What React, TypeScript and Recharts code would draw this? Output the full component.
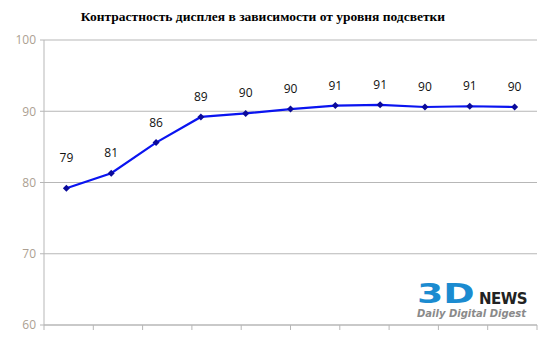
import { LineChart, Line, XAxis, YAxis, CartesianGrid, LabelList } from 'recharts'

const levels = ['0', '10', '20', '30', '40', '50', '60', '70', '80', '90', '100']
const contrast = [79.2, 81.3, 85.6, 89.2, 89.7, 90.3, 90.8, 90.9, 90.6, 90.7, 90.6]
const valueLabels = ['79', '81', '86', '89', '90', '90', '91', '91', '90', '91', '90']
const yTicks = [60, 70, 80, 90, 100]

const data = levels.map((level, i) => ({ level, contrast: contrast[i], label: valueLabels[i] }))
const boundaryTicks = levels.map((_, i) => i).concat(levels.length)

const axisGray = '#b7b7b7'

const renderLabel = (props: any) => {
  const { x, y, index } = props
  // first label sits a bit higher in the original
  const dy = index === 0 ? -26 : -16
  return (
    <text x={x} y={y + dy} textAnchor="middle" fontSize={12} fill="#111" fontFamily="'Open Sans', sans-serif">
      {valueLabels[index]}
    </text>
  )
}

export default function App() {
  return (
    <div style={{ position: 'absolute', left: 0, top: 0, width: 550, height: 356, background: '#fff' }}>
      <div
        style={{
          position: 'absolute',
          top: 9,
          left: 0,
          width: 526,
          textAlign: 'center',
          fontFamily: "'Liberation Serif', 'DejaVu Serif', serif",
          fontWeight: 'bold',
          fontSize: 13.5,
          color: '#000',
        }}
      >
        Контрастность дисплея в зависимости от уровня подсветки
      </div>
      <LineChart width={550} height={356} data={data} margin={{ top: 40, right: 13, bottom: 26, left: 0 }}>
        <CartesianGrid vertical={false} stroke={axisGray} />
        <XAxis dataKey="level" hide height={0} padding={{ left: 22.4, right: 22.4 }} />
        <XAxis
          xAxisId="edges"
          type="number"
          domain={[0, levels.length]}
          ticks={boundaryTicks}
          tickFormatter={() => ''}
          tickSize={5}
          height={5}
          axisLine={{ stroke: axisGray }}
          tickLine={{ stroke: axisGray }}
          allowDataOverflow
        />
        <YAxis
          domain={[60, 100]}
          ticks={yTicks}
          width={44}
          tickSize={4}
          tickMargin={4}
          axisLine={{ stroke: axisGray }}
          tickLine={{ stroke: axisGray }}
          tick={{ fill: '#ac9f92', fontSize: 12, fontFamily: "'Open Sans', sans-serif" }}
        />
        <YAxis
          yAxisId="border"
          orientation="right"
          width={0}
          tick={false}
          tickLine={false}
          axisLine={{ stroke: axisGray }}
        />
        <Line
          type="linear"
          dataKey="contrast"
          stroke="#0a14f0"
          strokeWidth={2.2}
          dot={(p: any) => (
            <path
              key={p.index}
              d={`M${p.cx},${p.cy - 3.5}L${p.cx + 3.5},${p.cy}L${p.cx},${p.cy + 3.5}L${p.cx - 3.5},${p.cy}Z`}
              fill="#0a0a9a"
            />
          )}
          isAnimationActive={false}
        >
          <LabelList dataKey="label" content={renderLabel} />
        </Line>
      </LineChart>
      <div
        style={{
          position: 'absolute', left: 417, top: 283, color: '#1b8bd0', fontSize: 27, fontWeight: 'bold',
          lineHeight: '22px', fontFamily: "'DejaVu Sans', sans-serif",
          transform: 'scaleX(1.4)', transformOrigin: 'left top',
        }}
      >
        3D
      </div>
      <div
        style={{
          position: 'absolute', left: 479, top: 291, color: '#222', fontSize: 15, fontWeight: 'bold',
          letterSpacing: -0.5, lineHeight: '16px', fontFamily: "'DejaVu Sans', sans-serif",
        }}
      >
        NEWS
      </div>
      <div
        style={{
          position: 'absolute', left: 417, top: 308, color: '#8a8a8a', fontSize: 10, fontStyle: 'italic',
          fontWeight: 'bold', lineHeight: '12px', fontFamily: "'DejaVu Sans', sans-serif",
        }}
      >
        Daily Digital Digest
      </div>
    </div>
  )
}
